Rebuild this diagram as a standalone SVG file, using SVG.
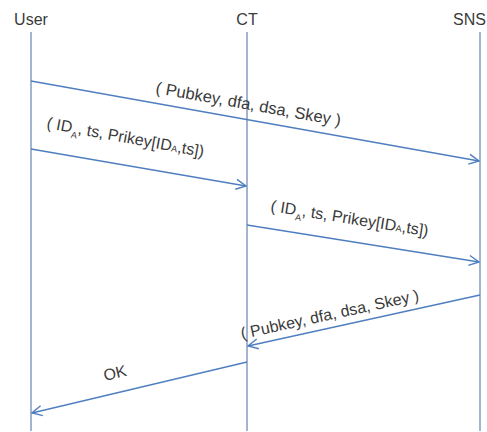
<svg xmlns="http://www.w3.org/2000/svg" width="487" height="432" viewBox="0 0 487 432">
<defs>
<style>
.lbl{font-family:"Liberation Sans",Arial,sans-serif;font-size:16px;fill:#3a3a3a}
.life{stroke:#a3b4d3;stroke-width:2;fill:none}
.msg{stroke:#4f7fbf;stroke-width:1.4;fill:none;marker-end:url(#arr)}
.sub{font-size:9px}
</style>
<marker id="arr" viewBox="0 0 12 12" refX="11" refY="6" markerWidth="12" markerHeight="12" markerUnits="userSpaceOnUse" orient="auto">
<path d="M1,1 L11,6 L1,11" fill="none" stroke="#4f7fbf" stroke-width="1.4"/>
</marker>
</defs>
<rect width="487" height="432" fill="#ffffff"/>
<g id="user"><text class="lbl" x="31" y="25" text-anchor="middle">User</text><line class="life" x1="31" y1="32" x2="31" y2="431"/></g>
<g id="ct"><text class="lbl" x="247" y="25" text-anchor="middle">CT</text><line class="life" x1="247" y1="32" x2="247" y2="431"/></g>
<g id="sns"><text class="lbl" x="453" y="25">SNS</text><line class="life" x1="480" y1="32" x2="480" y2="431"/></g>
<g id="connectors">
<line class="msg" x1="31" y1="81" x2="479" y2="161"/>
<line class="msg" x1="31" y1="149" x2="246" y2="186"/>
<line class="msg" x1="247" y1="225" x2="479" y2="262"/>
<line class="msg" x1="480" y1="295" x2="248" y2="346"/>
<line class="msg" x1="247" y1="362" x2="32" y2="413"/>
<text class="lbl" x="155" y="93" transform="rotate(10.1 155 93)" style="font-size:16.5px">( Pubkey, dfa, dsa, Skey )</text>
<text class="lbl" x="46" y="128" transform="rotate(10.5 46 128)">( ID<tspan class="sub" dy="5">A</tspan><tspan dy="-5">, ts, Prikey[ID</tspan><tspan class="sub">A</tspan>,ts])</text>
<text class="lbl" x="270" y="211" transform="rotate(9.1 270 211)">( ID<tspan class="sub" dy="5">A</tspan><tspan dy="-5">, ts, Prikey[ID</tspan><tspan class="sub">A</tspan>,ts])</text>
<text class="lbl" x="242" y="339" transform="rotate(-12.3 242 339)">( Pubkey, dfa, dsa, Skey )</text>
<text class="lbl" x="105" y="381" transform="rotate(-13.5 105 381)">OK</text>
</g>
</svg>
